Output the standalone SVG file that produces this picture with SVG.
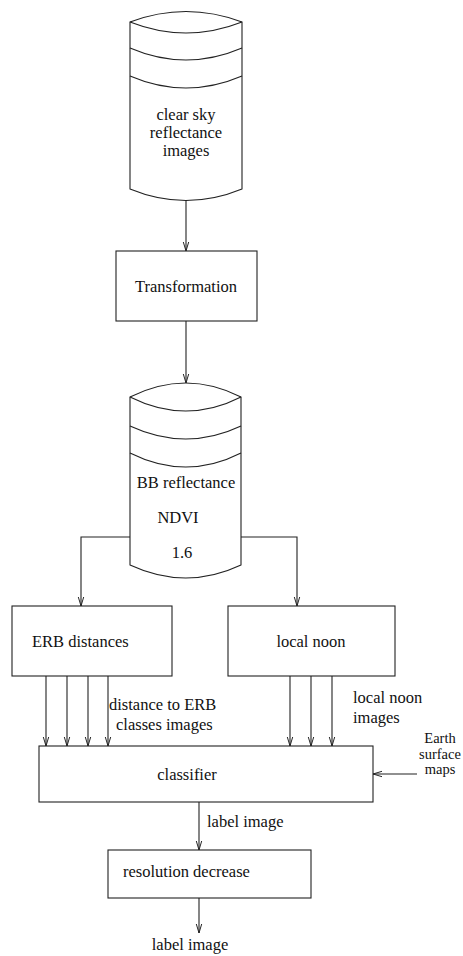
<svg xmlns="http://www.w3.org/2000/svg" width="463" height="956" viewBox="0 0 463 956">
<style>
.s{fill:none;stroke:#222;stroke-width:1.1}
.b{fill:#fff;stroke:#222;stroke-width:1.1}
.t{font-family:"Liberation Serif","Times New Roman",serif;font-size:16.5px;fill:#111}
.m{text-anchor:middle}
.e{font-size:14.5px}
</style>
<defs>
<marker id="ah" viewBox="0 0 10 10" refX="10" refY="5" markerWidth="9" markerHeight="9" markerUnits="userSpaceOnUse" orient="auto">
<path d="M0,2 L10,5 L0,8" fill="none" stroke="#222" stroke-width="1.1"/>
</marker>
</defs>
<rect width="463" height="956" fill="#fff"/>
<g id="connectors" class="s">
<line x1="186" y1="201" x2="186" y2="251" marker-end="url(#ah)"/>
<line x1="186" y1="321" x2="186" y2="383" marker-end="url(#ah)"/>
<polyline points="130,537 81,537 81,606" marker-end="url(#ah)"/>
<polyline points="241,537 297,537 297,606" marker-end="url(#ah)"/>
<line x1="46" y1="676" x2="46" y2="746" marker-end="url(#ah)"/>
<line x1="67" y1="676" x2="67" y2="746" marker-end="url(#ah)"/>
<line x1="88" y1="676" x2="88" y2="746" marker-end="url(#ah)"/>
<line x1="108" y1="676" x2="108" y2="746" marker-end="url(#ah)"/>
<line x1="290" y1="676" x2="290" y2="746" marker-end="url(#ah)"/>
<line x1="311" y1="676" x2="311" y2="746" marker-end="url(#ah)"/>
<line x1="332" y1="676" x2="332" y2="746" marker-end="url(#ah)"/>
<line x1="417" y1="774" x2="373" y2="774" marker-end="url(#ah)"/>
<line x1="199" y1="802" x2="199" y2="850" marker-end="url(#ah)"/>
<line x1="199" y1="898" x2="199" y2="933" marker-end="url(#ah)"/>
</g>
<g id="clearsky">
<path class="b" d="M130,22 Q186,1 242,22 L242,189 Q186,212 130,189 Z"/>
<path class="s" d="M130,22 Q186,44 242,22 M130,48 Q186,72 242,48 M130,76 Q186,100 242,76"/>
<text class="t m" x="186" y="120">clear sky</text>
<text class="t m" x="186" y="138">reflectance</text>
<text class="t m" x="186" y="156">images</text>
</g>
<g id="transformation">
<rect class="b" x="116" y="251" width="141" height="70"/>
<text class="t m" x="186" y="292">Transformation</text>
</g>
<g id="bbcyl">
<path class="b" d="M130,397 Q186,369 241,397 L241,565 Q186,591 130,565 Z"/>
<path class="s" d="M130,397 Q186,425 241,397 M130,426 Q186,452 241,426 M130,453 Q186,481 241,453"/>
<text class="t m" x="186" y="488">BB reflectance</text>
<text class="t m" x="178" y="523">NDVI</text>
<text class="t m" x="182" y="558">1.6</text>
</g>
<g id="erb">
<rect class="b" x="12" y="606" width="160" height="70"/>
<text class="t" x="32" y="647">ERB distances</text>
</g>
<g id="localnoon">
<rect class="b" x="228" y="606" width="167" height="70"/>
<text class="t m" x="311" y="647">local noon</text>
</g>
<g id="labels1">
<text class="t" x="109" y="710">distance to ERB</text>
<text class="t" x="116" y="730">classes images</text>
<text class="t" x="353" y="703">local noon</text>
<text class="t" x="353" y="723">images</text>
<text class="t m e" x="440" y="743">Earth</text>
<text class="t m e" x="440" y="758.5">surface</text>
<text class="t m e" x="440" y="774">maps</text>
</g>
<g id="classifier">
<rect class="b" x="39" y="746" width="334" height="56"/>
<text class="t m" x="187" y="780">classifier</text>
</g>
<text class="t" x="207" y="827">label image</text>
<g id="resolution">
<rect class="b" x="108" y="850" width="203" height="48"/>
<text class="t" x="123" y="877">resolution decrease</text>
</g>
<text class="t m" x="190" y="950">label image</text>
</svg>
